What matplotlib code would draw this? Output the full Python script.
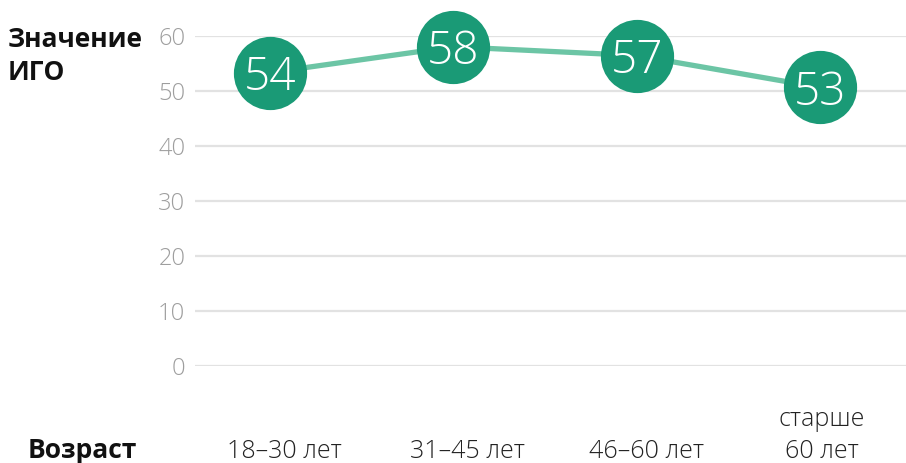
import matplotlib
matplotlib.use("Agg")
import matplotlib.pyplot as plt
from matplotlib.transforms import blended_transform_factory

# ==================== данные ====================
categories = ["18–30 лет", "31–45 лет", "46–60 лет", "старше\n60 лет"]
values = [53.4, 58.1, 56.5, 50.7]          # положение кружков на шкале
value_labels = ["54", "58", "57", "53"]     # подписи внутри кружков
y_ticks = [0, 10, 20, 30, 40, 50, 60]

LINE_COLOR = "#6cc5a5"
DOT_COLOR = "#1a9a76"
GRID_COLOR = "#e2e2e2"
TICK_COLOR = "#9e9e9e"
FONT = ["Open Sans", "DejaVu Sans"]

plt.rcParams["font.family"] = FONT

W, H = 906, 463
fig = plt.figure(figsize=(W / 100, H / 100), dpi=100)
ax = fig.add_axes([195 / W, (H - 366.3) / H, 1 - 195 / W, (366.3 - 36.3) / H])

x = list(range(len(categories)))
ax.set_xlim(-0.409, 3.469)
ax.set_ylim(0, 60)

# сетка
for yt in y_ticks:
    ax.axhline(yt, color=GRID_COLOR, lw=1.6, zorder=0)

ax.plot(x, values, color=LINE_COLOR, lw=3.8, zorder=2, clip_on=False)
ax.scatter(x, values, s=2780, color=DOT_COLOR, zorder=3, clip_on=False, linewidths=0)
for xi, v, lab in zip(x, values, value_labels):
    ax.text(xi, v, lab, color="white", fontsize=33, fontweight="light",
            ha="center", va="center_baseline", zorder=4)

for s in ax.spines.values():
    s.set_visible(False)
ax.set_xticks([])
ax.set_yticks(y_ticks)
ax.set_yticklabels([str(t) for t in y_ticks])
ax.tick_params(axis="y", length=0, pad=7, labelsize=17, labelcolor=TICK_COLOR)
for t in ax.get_yticklabels():
    t.set_fontweight("light")

# подписи категорий
tr = blended_transform_factory(ax.transData, fig.transFigure)
shifts = [0.08, 0.075, 0.055, 0.01]
for xi, cat, dx in zip(x, categories, shifts):
    ax.text(xi + dx, (H - 458) / H, cat, transform=tr, ha="center", va="baseline",
            fontsize=18, fontweight="light", color="#222222", linespacing=1.35)

fig.text(8 / W, (H - 80) / H, "Значение\nИГО", ha="left", va="baseline",
         fontsize=19, fontweight="bold", color="#111111", linespacing=1.3)
fig.text(28 / W, (H - 458) / H, "Возраст", ha="left", va="baseline",
         fontsize=19, fontweight="bold", color="#111111")

fig.savefig("out.png", dpi=100)
